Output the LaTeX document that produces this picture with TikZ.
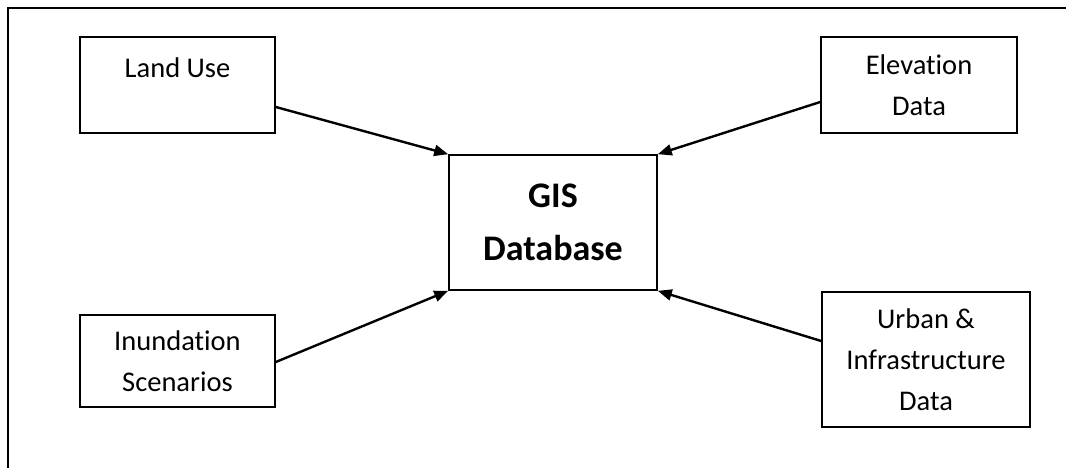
\documentclass[tikz,border=0pt]{standalone}
\usepackage{fontspec}
\setmainfont{Carlito}[Ligatures={NoCommon}]
\usetikzlibrary{arrows.meta}
\begin{document}
\begin{tikzpicture}[x=1pt,y=1pt,
  box/.style={draw, line width=1.6pt, inner sep=0pt, align=center,
    font=\fontsize{28.5}{41}\selectfont},
  link/.style={line width=2.4pt, -{Triangle[length=14pt,width=11pt]}}]
\useasboundingbox (0,0) rectangle (1066,467);

% page frame (top and left edges)
\draw[line width=1.5pt] (1067,459) -- (8,459) -- (8,-2);

% central database
\node[box, minimum width=208pt, minimum height=135pt,
  font=\bfseries\fontsize{36}{53}\selectfont] (gis) at (553,244.5) {GIS\\Database};

% data sources
\node[box, minimum width=195pt, minimum height=96pt,
  text height=20pt, text depth=34pt] (land) at (177.5,382) {Land Use};
\node[box, minimum width=196pt, minimum height=96pt] (elev) at (919,382) {Elevation\\Data};
\node[box, minimum width=195pt, minimum height=92pt] (inund) at (177.5,106) {Inundation\\Scenarios};
\node[box, minimum width=208pt, minimum height=135pt] (urban) at (926,107.5) {Urban \&\\Infrastructure\\Data};

% connections into the database
\draw[link] ([yshift=-22pt]land.east) -- (gis.north west);
\draw[link] ([yshift=-17pt]elev.west) -- (gis.north east);
\draw[link] ([yshift=-1pt]inund.east) -- (gis.south west);
\draw[link] ([yshift=18.5pt]urban.west) -- (gis.south east);
\end{tikzpicture}
\end{document}
